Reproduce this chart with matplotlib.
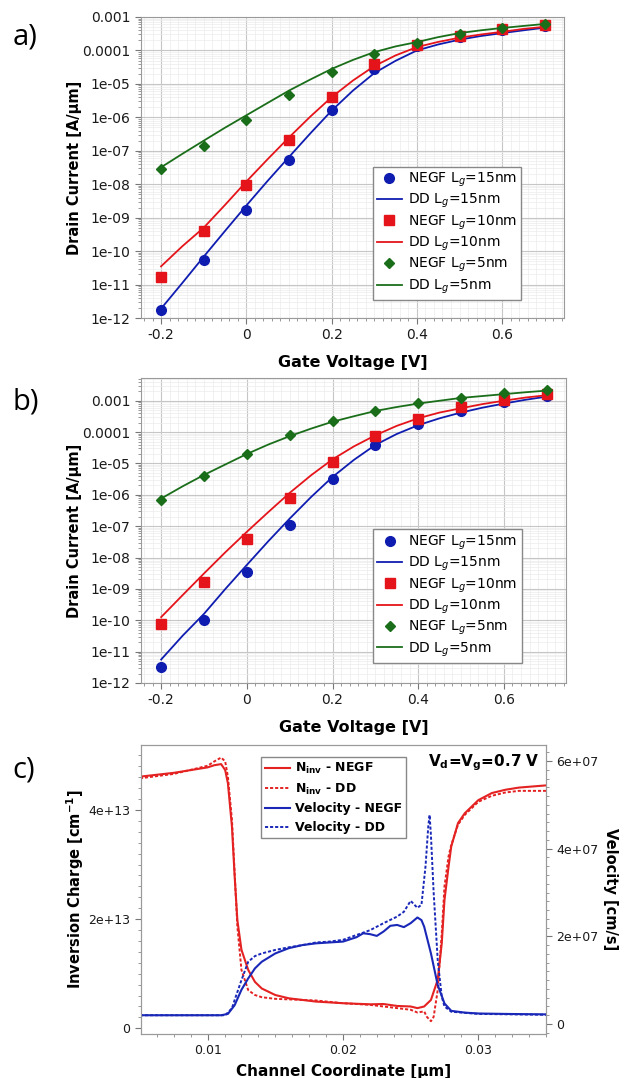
import numpy as np
import matplotlib
matplotlib.use('Agg')
import matplotlib.pyplot as plt
from matplotlib.ticker import (FuncFormatter, MultipleLocator, LogLocator,
                               AutoMinorLocator, NullFormatter)

plt.rcParams['axes.unicode_minus'] = False

# ---------- panel a / b : transfer curves ----------
vg = [-0.2, -0.1, 0.0, 0.1, 0.2, 0.3, 0.4, 0.5, 0.6, 0.7]
vg_dd = [-0.2, -0.15, -0.1, -0.05, 0.0, 0.05, 0.1, 0.15, 0.2, 0.25,
         0.3, 0.35, 0.4, 0.45, 0.5, 0.55, 0.6, 0.65, 0.7]

a_negf_15 = [1.7e-12, 5.4e-11, 1.7e-9, 5.2e-8, 1.7e-6, 2.8e-5, 1.4e-4, 2.5e-4, 4.2e-4, 5.2e-4]
a_negf_10 = [1.7e-11, 4.0e-10, 9.5e-9, 2.1e-7, 4.0e-6, 3.8e-5, 1.5e-4, 2.7e-4, 4.5e-4, 5.9e-4]
a_negf_5 = [2.9e-8, 1.4e-7, 8.1e-7, 4.5e-6, 2.2e-5, 7.6e-5, 1.7e-4, 3.0e-4, 4.6e-4, 6.3e-4]

a_dd_15 = [1.9e-12, 1.12e-11, 6.8e-11, 4.0e-10, 2.3e-9, 1.26e-8, 6.5e-8, 3.3e-7, 1.58e-6, 6.3e-6,
           2.1e-5, 4.9e-5, 1.0e-4, 1.51e-4, 2.1e-4, 2.7e-4, 3.3e-4, 4.0e-4, 4.8e-4]
a_dd_10 = [3.5e-11, 1.4e-10, 5.0e-10, 2.4e-9, 1.2e-8, 5.6e-8, 2.5e-7, 1.05e-6, 4.0e-6, 1.26e-5,
           3.4e-5, 7.1e-5, 1.26e-4, 1.8e-4, 2.4e-4, 3.0e-4, 3.6e-4, 4.4e-4, 5.1e-4]
a_dd_5 = [3.2e-8, 8.1e-8, 2.0e-7, 4.9e-7, 1.15e-6, 2.7e-6, 6.3e-6, 1.35e-5, 2.8e-5, 5.2e-5,
          8.9e-5, 1.32e-4, 1.78e-4, 2.5e-4, 3.3e-4, 4.0e-4, 4.7e-4, 5.4e-4, 6.2e-4]

b_negf_15 = [3.2e-12, 1.05e-10, 3.5e-9, 1.1e-7, 3.2e-6, 4.0e-5, 1.8e-4, 4.7e-4, 8.9e-4, 1.4e-3]
b_negf_10 = [7.4e-11, 1.7e-9, 4.0e-8, 8.0e-7, 1.1e-5, 7.4e-5, 2.7e-4, 6.1e-4, 1.07e-3, 1.6e-3]
b_negf_5 = [6.8e-7, 4.1e-6, 2.0e-5, 8.2e-5, 2.3e-4, 4.8e-4, 8.2e-4, 1.25e-3, 1.8e-3, 2.2e-3]

b_dd_15 = [5.6e-12, 3.2e-11, 1.6e-10, 1.0e-9, 5.8e-9, 3.3e-8, 1.74e-7, 8.5e-7, 3.7e-6, 1.3e-5,
           3.9e-5, 8.7e-5, 1.66e-4, 2.75e-4, 4.2e-4, 6.0e-4, 8.1e-4, 1.07e-3, 1.35e-3]
b_dd_10 = [1.26e-10, 6.3e-10, 3.1e-9, 1.48e-8, 6.6e-8, 2.8e-7, 1.15e-6, 4.2e-6, 1.35e-5, 3.5e-5,
           7.9e-5, 1.58e-4, 2.75e-4, 4.2e-4, 5.75e-4, 7.8e-4, 1.0e-3, 1.26e-3, 1.5e-3]
b_dd_5 = [7.6e-7, 1.86e-6, 4.3e-6, 9.3e-6, 2.0e-5, 4.0e-5, 7.4e-5, 1.29e-4, 2.14e-4, 3.2e-4,
          4.7e-4, 6.3e-4, 8.1e-4, 1.0e-3, 1.23e-3, 1.41e-3, 1.62e-3, 1.86e-3, 2.1e-3]

# ---------- panel c : profiles along the channel ----------
ninv_negf_x = [0.005, 0.0075, 0.010, 0.0105, 0.011, 0.0113, 0.0115, 0.0118, 0.012, 0.0122,
               0.0125, 0.013, 0.0135, 0.014, 0.015, 0.016, 0.018, 0.020, 0.022, 0.023,
               0.024, 0.025, 0.0255, 0.026, 0.0265, 0.027, 0.0273, 0.0275, 0.0278, 0.028,
               0.0285, 0.029, 0.030, 0.031, 0.032, 0.033, 0.034, 0.035]
ninv_negf = [4.61, 4.68, 4.78, 4.82, 4.84, 4.73, 4.49, 3.69, 2.78, 1.98,
             1.44, 1.07, 0.85, 0.73, 0.61, 0.55, 0.49, 0.46, 0.44, 0.445,
             0.41, 0.40, 0.37, 0.40, 0.52, 0.89, 1.56, 2.35, 2.96, 3.33,
             3.76, 3.94, 4.18, 4.31, 4.37, 4.41, 4.43, 4.45]

ninv_dd_x = [0.005, 0.0075, 0.010, 0.0105, 0.011, 0.0113, 0.0115, 0.0118, 0.012, 0.0122,
             0.0125, 0.013, 0.0135, 0.014, 0.015, 0.016, 0.018, 0.020, 0.022, 0.024,
             0.025, 0.0255, 0.026, 0.0262, 0.0265, 0.0267, 0.027, 0.0273, 0.0275, 0.0278,
             0.028, 0.0285, 0.029, 0.030, 0.031, 0.032, 0.033, 0.034, 0.035]
ninv_dd = [4.58, 4.66, 4.81, 4.89, 4.96, 4.89, 4.61, 3.82, 2.84, 1.86,
           1.07, 0.70, 0.61, 0.57, 0.54, 0.53, 0.51, 0.46, 0.43, 0.37,
           0.34, 0.29, 0.31, 0.21, 0.13, 0.21, 0.70, 1.74, 2.60, 3.15,
           3.36, 3.73, 3.91, 4.15, 4.26, 4.32, 4.35, 4.35, 4.35]

vel_negf_x = [0.005, 0.008, 0.011, 0.0115, 0.012, 0.0125, 0.013, 0.0135, 0.014, 0.015,
              0.016, 0.017, 0.018, 0.019, 0.020, 0.021, 0.0215, 0.022, 0.0225, 0.023,
              0.0235, 0.024, 0.0245, 0.025, 0.0255, 0.0258, 0.026, 0.0265, 0.027, 0.0275,
              0.028, 0.029, 0.030, 0.032, 0.035]
vel_negf = [0.20, 0.20, 0.20, 0.23, 0.43, 0.78, 1.04, 1.27, 1.42, 1.61,
            1.73, 1.80, 1.84, 1.86, 1.88, 1.98, 2.07, 2.05, 2.01, 2.11,
            2.24, 2.26, 2.21, 2.30, 2.43, 2.37, 2.22, 1.61, 0.89, 0.47,
            0.30, 0.26, 0.24, 0.23, 0.22]

vel_dd_x = [0.005, 0.008, 0.0113, 0.0118, 0.012, 0.0125, 0.013, 0.0135, 0.014, 0.015,
            0.016, 0.017, 0.018, 0.019, 0.020, 0.021, 0.022, 0.023, 0.024, 0.0245,
            0.025, 0.0255, 0.0258, 0.0261, 0.0263, 0.0264, 0.0265, 0.0267, 0.027, 0.0273,
            0.0275, 0.028, 0.030, 0.035]
vel_dd = [0.20, 0.20, 0.20, 0.36, 0.55, 1.00, 1.42, 1.55, 1.61, 1.69,
          1.75, 1.80, 1.86, 1.88, 1.92, 2.03, 2.14, 2.30, 2.45, 2.56,
          2.81, 2.65, 2.72, 3.60, 4.50, 4.77, 4.30, 3.00, 1.46, 0.62,
          0.40, 0.28, 0.23, 0.21]

# colours
BLUE = '#0f1cb0'
RED = '#e4141a'
GREEN = '#1a6e1a'
CBLUE = '#1a28b8'
CRED = '#e42222'
SPINE = '#9a9a9a'


def log_label(v, pos):
    e = int(round(np.log10(v)))
    if e >= -4:
        return f'{v:.{-e}f}'
    return f'1e-{-e:02d}'


def style_iv(ax, ytop):
    ax.set_yscale('log')
    ax.set_xlim(-0.247, 0.745)
    ax.set_ylim(1e-12, ytop)
    ax.yaxis.set_major_locator(LogLocator(base=10, numticks=20))
    ax.yaxis.set_minor_locator(LogLocator(base=10, subs=np.arange(2, 10), numticks=20))
    ax.yaxis.set_major_formatter(FuncFormatter(log_label))
    ax.yaxis.set_minor_formatter(NullFormatter())
    ax.xaxis.set_major_locator(MultipleLocator(0.2))
    ax.xaxis.set_minor_locator(MultipleLocator(0.02))
    ax.xaxis.set_major_formatter(FuncFormatter(lambda v, p: f'{round(v, 2) + 0:g}'))
    ax.grid(which='major', color='#c6c6c6', lw=0.8)
    ax.grid(which='minor', color='#ececec', lw=0.5)
    ax.set_axisbelow(True)
    for s in ax.spines.values():
        s.set_color(SPINE)
    ax.tick_params(which='major', length=4, colors='#777777', labelcolor='#1a1a1a', labelsize=10)
    ax.tick_params(which='minor', length=2, colors='#888888')
    ax.set_xlabel('Gate Voltage [V]', fontsize=11.5, fontweight='bold', labelpad=9)
    ax.set_ylabel('Drain Current [A/μm]', fontsize=10.5, fontweight='bold', labelpad=0)


def draw_iv(ax, n15, d15, n10, d10, n5, d5):
    ax.plot(vg, n15, 'o', color=BLUE, ms=7, label='NEGF L$_g$=15nm')
    ax.plot(vg_dd, d15, '-', color=BLUE, lw=1.3, label='DD L$_g$=15nm')
    ax.plot(vg, n10, 's', color=RED, ms=6.5, label='NEGF L$_g$=10nm')
    ax.plot(vg_dd, d10, '-', color=RED, lw=1.3, label='DD L$_g$=10nm')
    ax.plot(vg, n5, 'D', color=GREEN, ms=5, label='NEGF L$_g$=5nm')
    ax.plot(vg_dd, d5, '-', color=GREEN, lw=1.3, label='DD L$_g$=5nm')


def iv_legend(ax, x0, y0):
    ax.legend(loc='lower left', bbox_to_anchor=(x0, y0), borderaxespad=0,
              fontsize=10, fancybox=False, framealpha=1, edgecolor='#888888',
              handlelength=1.8, handletextpad=0.45, labelspacing=0.22,
              borderpad=0.3)


fig = plt.figure(figsize=(6.28, 10.78), dpi=100)

ax_a = fig.add_axes([141/628, 1 - 318/1078, 423/628, 301/1078])
ax_b = fig.add_axes([141/628, 1 - 683/1078, 425/628, 305/1078])
ax_c = fig.add_axes([141/628, 1 - 1034/1078, 405/628, 289/1078])

# ---- a ----
draw_iv(ax_a, a_negf_15, a_dd_15, a_negf_10, a_dd_10, a_negf_5, a_dd_5)
style_iv(ax_a, 1e-3)
iv_legend(ax_a, 0.548, 0.06)

# ---- b ----
draw_iv(ax_b, b_negf_15, b_dd_15, b_negf_10, b_dd_10, b_negf_5, b_dd_5)
style_iv(ax_b, 5.3e-3)
iv_legend(ax_b, 0.546, 0.066)

# ---- c ----
ax_v = ax_c.twinx()
l1, = ax_c.plot(ninv_negf_x, np.array(ninv_negf) * 1e13, '-', color=CRED, lw=1.5)
l2, = ax_c.plot(ninv_dd_x, np.array(ninv_dd) * 1e13, color=CRED, lw=1.4, ls=(0, (1.6, 1)))
l3, = ax_v.plot(vel_negf_x, np.array(vel_negf) * 1e7, '-', color=CBLUE, lw=1.5)
l4, = ax_v.plot(vel_dd_x, np.array(vel_dd) * 1e7, color=CBLUE, lw=1.4, ls=(0, (1.6, 1)))

ax_c.set_xlim(0.00508, 0.035)
ax_c.set_ylim(-1.04e12, 5.19e13)
ax_v.set_ylim(-2.28e6, 6.365e7)
ax_c.xaxis.set_major_locator(MultipleLocator(0.01))
ax_c.xaxis.set_minor_locator(AutoMinorLocator(8))
ax_c.yaxis.set_major_locator(MultipleLocator(2e13))
ax_c.yaxis.set_minor_locator(AutoMinorLocator(10))
ax_v.yaxis.set_major_locator(MultipleLocator(2e7))
ax_v.yaxis.set_minor_locator(AutoMinorLocator(10))
sci = FuncFormatter(lambda v, p: '0' if abs(v) < 1 else f'{v:.0e}')
ax_c.yaxis.set_major_formatter(sci)
ax_v.yaxis.set_major_formatter(sci)
ax_c.xaxis.set_major_formatter(FuncFormatter(lambda v, p: f'{round(v, 3):g}'))
for a in (ax_c, ax_v):
    for s in a.spines.values():
        s.set_color(SPINE)
    a.tick_params(which='major', length=4, colors='#777777', labelcolor='#1a1a1a', labelsize=9)
    a.tick_params(which='minor', length=2, colors='#888888')

ax_c.set_xlabel('Channel Coordinate [μm]', fontsize=11, fontweight='bold', labelpad=5)
ax_c.set_ylabel('Inversion Charge [cm$^{\\mathbf{-1}}$]', fontsize=10.5, fontweight='bold', labelpad=2)
ax_v.set_ylabel('Velocity [cm/s]', fontsize=10.5, fontweight='bold', rotation=270,
                va='bottom', labelpad=3)

ax_c.legend([l1, l2, l3, l4],
            ['N$_{\\mathbf{inv}}$ - NEGF', 'N$_{\\mathbf{inv}}$ - DD',
             'Velocity - NEGF', 'Velocity - DD'],
            loc='upper left', bbox_to_anchor=(0.296, 0.958), borderaxespad=0,
            prop={'weight': 'bold', 'size': 9}, fancybox=False, framealpha=1,
            edgecolor='#888888', handlelength=2.0, handletextpad=0.4,
            labelspacing=0.45, borderpad=0.3)
ax_c.text(0.847, 0.94, 'V$_{\\mathbf{d}}$=V$_{\\mathbf{g}}$=0.7 V', transform=ax_c.transAxes,
          ha='center', va='center', fontsize=11, fontweight='bold')

# panel letters
for lab, y in [('a)', 37), ('b)', 402), ('c)', 770)]:
    fig.text(0.02, 1 - y/1078, lab, fontsize=21, family='Open Sans', va='center', ha='left')

fig.savefig('out.png', dpi=100)
